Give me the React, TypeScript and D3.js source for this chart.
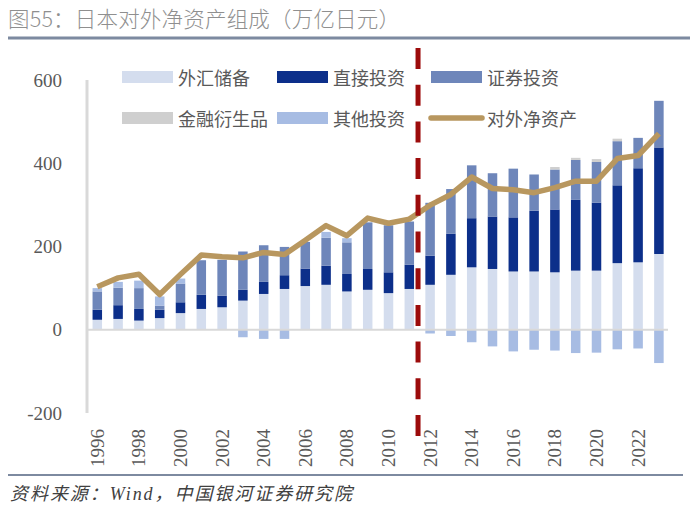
import React from "react";
import * as d3 from "d3";

const years = [1996, 1997, 1998, 1999, 2000, 2001, 2002, 2003, 2004, 2005, 2006, 2007, 2008, 2009, 2010, 2011, 2012, 2013, 2014, 2015, 2016, 2017, 2018, 2019, 2020, 2021, 2022, 2023];
const fxReserves = [24, 26, 22, 28, 40, 50, 54, 70, 86, 98, 105, 108, 92, 96, 88, 98, 108, 132, 150, 146, 140, 140, 138, 142, 142, 160, 162, 182];
const directInv = [24, 33, 28, 20, 26, 34, 28, 26, 29, 33, 42, 46, 42, 50, 50, 58, 70, 99, 118, 126, 130, 146, 151, 170, 163, 187, 226, 256];
const securitiesInv = [44, 42, 50, 10, 45, 83, 86, 92, 88, 68, 64, 67, 76, 112, 113, 104, 127, 107, 127, 104, 117, 87, 96, 96, 98, 106, 73, 112];
const derivatives = [0, 0, 0, 0, 0, 0, 0, 0, 0, 0, 0, 0, 0, 0, 0, 0, 0, 0, 0, 0, 0, 0, 6, 5, 7, 6, 0, 0];
const otherInv = [8, 14, 18, 22, 12, 0, 0, -18, -22, -22, 0, 14, 10, 0, 0, 0, -9, -15, -30, -40, -52, -48, -50, -56, -55, -47, -45, -80];
const netAssets = [103.4, 124.6, 133.3, 84.7, 133.0, 179.3, 175.3, 172.8, 185.8, 180.7, 215.1, 250.2, 225.9, 268.2, 255.9, 265.7, 299.3, 325.0, 366.9, 339.3, 336.3, 329.3, 341.6, 357.0, 356.9, 411.2, 418.6, 471.3];
const yTicks = [-200, 0, 200, 400, 600];
const xTickYears = [1996, 1998, 2000, 2002, 2004, 2006, 2008, 2010, 2012, 2014, 2016, 2018, 2020, 2022];
const dividerYear = 2011;
const dividerFrac = 0.42;

const seriesNames = ["外汇储备", "直接投资", "证券投资", "金融衍生品", "其他投资"];
const seriesData = [fxReserves, directInv, securitiesInv, derivatives, otherInv];
const seriesColors = ["#d4ddee", "#0c2f8a", "#6e86ba", "#cfcfcf", "#a7bce3"];
const lineName = "对外净资产";
const lineColor = "#b8975f";
const title = "图55：日本对外净资产组成（万亿日元）";
const source = "资料来源：Wind，中国银河证券研究院";

export default function App() {
  const W = 700, H = 517;
  const x = d3.scalePoint<number>().domain(years).range([97.3, 658.9]);
  const y = d3.scaleLinear().domain([-200, 600]).range([413, 80]);
  const barW = 9.5;

  const rects: any[] = [];
  years.forEach((yr, i) => {
    let pos = 0, neg = 0;
    seriesData.forEach((arr, s) => {
      const v = arr[i];
      if (!v) return;
      let y0, y1;
      if (v > 0) { y0 = pos; y1 = pos + v; pos = y1; }
      else { y0 = neg; y1 = neg + v; neg = y1; }
      const top = y(Math.max(y0, y1));
      const bot = y(Math.min(y0, y1));
      rects.push(
        <rect key={`${yr}-${s}`} x={(x(yr) as number) - barW / 2} y={top} width={barW} height={bot - top} fill={seriesColors[s]} />
      );
    });
  });

  const line = d3.line<number>()
    .x((_, i) => x(years[i]) as number)
    .y((d) => y(d));

  const divX = (x(dividerYear) as number) + dividerFrac * x.step();

  const legendItems = [
    { name: seriesNames[0], color: seriesColors[0], type: "rect", col: 0, row: 0 },
    { name: seriesNames[1], color: seriesColors[1], type: "rect", col: 1, row: 0 },
    { name: seriesNames[2], color: seriesColors[2], type: "rect", col: 2, row: 0 },
    { name: seriesNames[3], color: seriesColors[3], type: "rect", col: 0, row: 1 },
    { name: seriesNames[4], color: seriesColors[4], type: "rect", col: 1, row: 1 },
    { name: lineName, color: lineColor, type: "line", col: 2, row: 1 },
  ];
  const legColX = [122, 277, 431];
  const legRowY = [77, 118];

  const serif = "'Liberation Serif', 'DejaVu Serif', serif";
  const cjk = "'Noto Sans CJK SC', sans-serif";

  return (
    <svg width={W} height={H} style={{ position: "absolute", left: 0, top: 0, background: "#fff" }}>
      <text x={8} y={27} fontSize={21.5} fill="#8f8f8f" fontFamily={cjk} fontWeight={300} textLength={392} lengthAdjust="spacing">{title}</text>
      <line x1={8} x2={690} y1={38} y2={38} stroke="#7d8aa0" strokeWidth={3} />

      {/* y axis */}
      <line x1={87} x2={87} y1={y(600)} y2={y(-200)} stroke="#d9d9d9" strokeWidth={3} />
      {yTicks.map((t) => (
        <text key={t} x={62} y={y(t)} textAnchor="end" dominantBaseline="central" fontSize={19} fill="#595959" fontFamily={serif}>{t}</text>
      ))}

      {rects}
      <line x1={88} x2={668} y1={y(0)} y2={y(0)} stroke="#d9d9d9" strokeWidth={2} />

      <path d={line(netAssets) || ""} fill="none" stroke={lineColor} strokeWidth={5.5} strokeLinejoin="round" />

      <line x1={divX} x2={divX} y1={48} y2={436} stroke="#9c0b0b" strokeWidth={5} strokeDasharray="21 15.7" />

      {xTickYears.map((yr) => (
        <text key={yr} transform={`translate(${x(yr)},429) rotate(-90)`} textAnchor="end" dominantBaseline="central" fontSize={19} fill="#595959" fontFamily={serif}>{yr}</text>
      ))}

      {legendItems.map((it) => {
        const lx = legColX[it.col], ly = legRowY[it.row];
        return (
          <g key={it.name}>
            {it.type === "rect"
              ? <rect x={lx} y={ly - 6} width={51} height={12} fill={it.color} />
              : <line x1={lx} x2={lx + 51} y1={ly} y2={ly} stroke={it.color} strokeWidth={5.5} strokeLinecap="round" />}
            <text x={lx + 56} y={ly} dominantBaseline="central" fontSize={18} fill="#595959" fontFamily={cjk}>{it.name}</text>
          </g>
        );
      })}

      <line x1={8} x2={683} y1={475} y2={475} stroke="#7d8aa0" strokeWidth={2} />
      <text x={10} y={500} fontSize={18} fill="#404040" fontStyle="italic" fontFamily={`'Liberation Serif', ${cjk}`} textLength={342} lengthAdjust="spacing">{source}</text>
    </svg>
  );
}
